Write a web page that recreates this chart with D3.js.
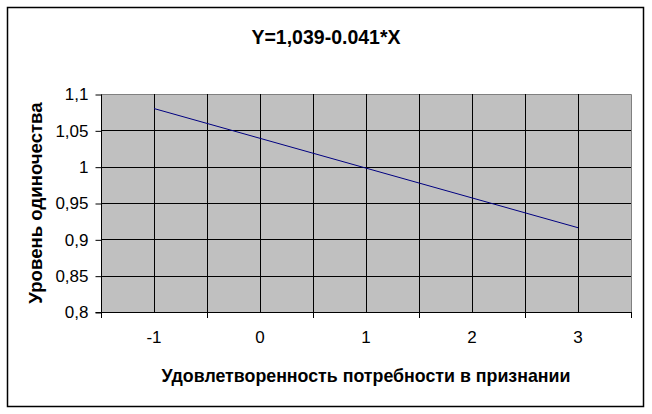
<!DOCTYPE html>
<html><head><meta charset="utf-8">
<script src="https://cdn.jsdelivr.net/npm/d3@7"></script>
<style>html,body{margin:0;padding:0;background:#fff;}svg{display:block;}</style>
</head><body>
<script>
const categories = ["-1", "0", "1", "2", "3"];
const values = [1.080, 1.039, 0.998, 0.957, 0.916];
const yTicks = [0.8, 0.85, 0.9, 0.95, 1.0, 1.05, 1.1];
const titleText = "Y=1,039-0.041*X";
const xTitle = "Удовлетворенность потребности в признании";
const yTitle = "Уровень одиночества";

const W = 652, H = 414;
const L = 101, R = 631, T = 94, B = 312;
const font = "'Liberation Sans', Arial, sans-serif";

const svg = d3.select("body").append("svg").attr("width", W).attr("height", H);

svg.append("rect").attr("x", 7.5).attr("y", 7.5).attr("width", 636).attr("height", 399)
  .attr("fill", "#fff").attr("stroke", "#000").attr("stroke-width", 1.5);

const x = d3.scaleBand().domain(categories).range([L, R]).padding(0);
const y = d3.scaleLinear().domain([0.8, 1.1]).range([B, T]);

svg.append("rect").attr("x", L).attr("y", T).attr("width", R - L).attr("height", B - T)
  .attr("fill", "#c0c0c0");

// border top/right gray
svg.append("path").attr("d", `M${L},${T + 0.5}H${R + 0.5}V${B}`)
  .attr("fill", "none").attr("stroke", "#808080").attr("stroke-width", 1);

// horizontal gridlines
svg.append("g").selectAll("line").data(yTicks.slice(1, -1)).join("line")
  .attr("x1", L).attr("x2", R)
  .attr("y1", d => Math.round(y(d)) + 0.5).attr("y2", d => Math.round(y(d)) + 0.5)
  .attr("stroke", "#000");

// vertical gridlines at category boundaries and centers
const vx = [];
categories.forEach((c, i) => {
  if (i > 0) vx.push(x(c));
  vx.push(x(c) + x.bandwidth() / 2);
});
svg.append("g").selectAll("line").data(vx).join("line")
  .attr("x1", d => Math.round(d) + 0.5).attr("x2", d => Math.round(d) + 0.5)
  .attr("y1", T).attr("y2", B)
  .attr("stroke", "#000");

// Y axis
const yAxis = d3.axisLeft(y).tickValues(yTicks).tickSize(6).tickPadding(7)
  .tickFormat(d => d3.format("~g")(d).replace(".", ","));
const gy = svg.append("g").attr("transform", `translate(${L + 0.5},0.5)`).call(yAxis);
gy.select(".domain").attr("stroke", "#000").attr("d", `M-6,${B}H0V${T}`);
gy.selectAll(".tick line").attr("stroke", "#000");
gy.selectAll("text").attr("font-family", font).attr("font-size", 17).attr("fill", "#000");

// X axis
const xAxis = d3.axisBottom(x).tickSize(0).tickPadding(18);
const gx = svg.append("g").attr("transform", `translate(0,${B + 0.5})`).call(xAxis);
gx.select(".domain").attr("stroke", "#000").attr("d", `M${L},0H${R + 0.5}`);
gx.selectAll("text").attr("font-family", font).attr("font-size", 17).attr("fill", "#000");
const bounds = categories.map(c => x(c)).concat([R]);
svg.append("g").selectAll("line").data(bounds).join("line")
  .attr("x1", d => Math.round(d) + 0.5).attr("x2", d => Math.round(d) + 0.5)
  .attr("y1", B).attr("y2", B + 6).attr("stroke", "#000");

// line
const line = d3.line().x((d, i) => x(categories[i]) + x.bandwidth() / 2).y(d => y(d));
svg.append("path").datum(values).attr("d", line)
  .attr("fill", "none").attr("stroke", "#000080").attr("stroke-width", 1);

// titles
svg.append("text").attr("x", 326).attr("y", 44).attr("text-anchor", "middle")
  .attr("font-family", font).attr("font-weight", "bold").attr("font-size", 19.5).text(titleText);
svg.append("text").attr("x", (L + R) / 2).attr("y", 382).attr("text-anchor", "middle")
  .attr("font-family", font).attr("font-weight", "bold").attr("font-size", 17.8).text(xTitle);
svg.append("text").attr("transform", `translate(42,${(T + B) / 2}) rotate(-90)`)
  .attr("text-anchor", "middle")
  .attr("font-family", font).attr("font-weight", "bold").attr("font-size", 18.6).text(yTitle);
</script>
</body></html>
